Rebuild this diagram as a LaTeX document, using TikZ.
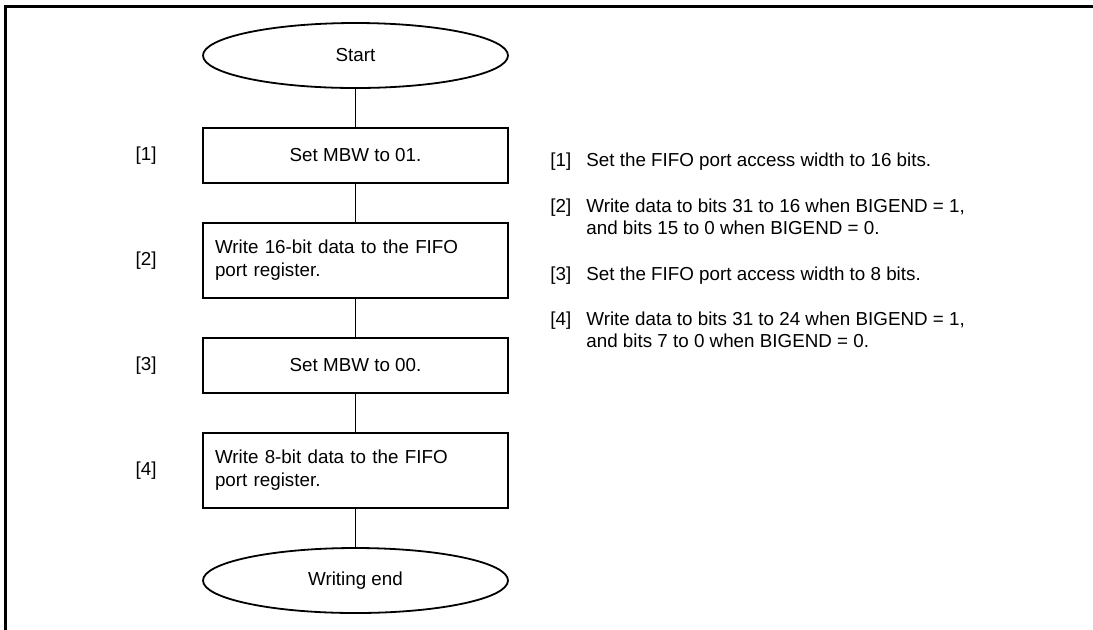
\documentclass[tikz,border=0pt]{standalone}
\usepackage{fontspec}
\setmainfont{Liberation Sans}
\usetikzlibrary{positioning,shapes.geometric}
\tikzset{term/.style={ellipse,draw,line width=.9pt,minimum width=152.5pt,minimum height=32.5pt,inner sep=0pt,outer sep=0pt},proc/.style={draw,line width=.9pt,minimum width=152.5pt,minimum height=27.5pt,inner sep=0pt,outer sep=0pt,align=center},proc2/.style={proc,minimum height=37.5pt,text width=140.5pt,align=left,font=\fontsize{9.4}{11.5}\selectfont},tag/.style={inner sep=0pt},note/.style={inner sep=0pt,align=left,anchor=base west,font=\fontsize{9.4}{10.75}\selectfont},link/.style={line width=.9pt}}

\begin{document}
\begin{tikzpicture}[x=.5pt,y=-.5pt,node distance=20pt,every node/.style={font=\fontsize{9.4}{11.5}\selectfont}]
  \useasboundingbox (0,0) rectangle (1093,629);
  \draw[line width=1.3pt] (5.5,640)--(5.5,6.5)--(1100,6.5);
  % flow
  \node[term](start) at (355.5,55.5){Start};
  \node[proc,below=of start](s1){Set MBW to 01.};
  \node[proc2,below=of s1](s2){Write 16-bit data to the FIFO\\port register.};
  \node[proc,below=of s2](s3){Set MBW to 00.};
  \node[proc2,below=of s3](s4){Write 8-bit data to the FIFO\\port register.};
  \node[term,below=of s4](stop){Writing end};
  \draw[link](start)--(s1);\draw[link](s1)--(s2);\draw[link](s2)--(s3);\draw[link](s3)--(s4);\draw[link](s4)--(stop);
  % step numbers
  \node[tag,left=23pt of s1](t1){[1]};
  \node[tag,left=23pt of s2](t2){[2]};
  \node[tag,left=23pt of s3](t3){[3]};
  \node[tag,left=23pt of s4](t4){[4]};
  % notes (base = last line)
  \node[note](n1) at (550,166.7){[1]};
  \node[note](d1) at (586,166.7){Set the FIFO port access width to 16 bits.};
  \node[note](n2) at (550,212.7){[2]};
  \node[note](d2) at (586,234){Write data to bits 31 to 16 when BIGEND = 1,\\and bits 15 to 0 when BIGEND = 0.};
  \node[note](n3) at (550,280){[3]};
  \node[note](d3) at (586,280){Set the FIFO port access width to 8 bits.};
  \node[note](n4) at (550,325.7){[4]};
  \node[note](d4) at (586,347.3){Write data to bits 31 to 24 when BIGEND = 1,\\and bits 7 to 0 when BIGEND = 0.};
\end{tikzpicture}
\end{document}
